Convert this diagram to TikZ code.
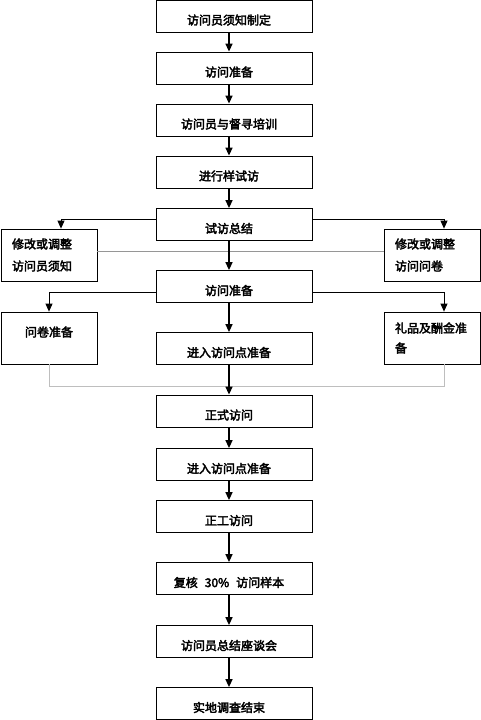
\documentclass[tikz,border=0pt]{standalone}
\usepackage{fontspec}
\setmainfont{Noto Sans CJK SC}[AutoFakeBold=3]
\usetikzlibrary{arrows.meta}
\definecolor{glinec}{RGB}{150,150,150}
\definecolor{glinecb}{RGB}{190,190,190}
\newcommand{\bt}[1]{\raisebox{-4pt}[\height][\depth]{\kern-5pt\makebox[0pt]{#1}\kern5pt}}
\begin{document}
\begin{tikzpicture}[x=1pt,y=-1pt,
  mainbox/.style={draw, line width=0.8pt, minimum width=156pt, minimum height=32pt, inner sep=0pt, font=\fontsize{12}{14}\selectfont\bfseries},
  sidebox/.style={draw, line width=0.8pt, minimum width=96pt, minimum height=52pt, inner xsep=11pt, inner ysep=0pt, text width=74pt, align=left, font=\fontsize{12}{22}\selectfont\bfseries},
  arr/.style={line width=1.5pt, -{Triangle[width=7pt,length=8pt]}},
  sarr/.style={line width=0.8pt, -{Triangle[width=7pt,length=8pt]}},
  gline/.style={draw=glinec, line width=1pt},
  glineb/.style={draw=glinecb, line width=1pt}]
\useasboundingbox (0,0) rectangle (481,720);
\coordinate (ax) at (229,0);
\node[mainbox] (b1) at (234,16) {\bt{访问员须知制定}};
\node[mainbox] (b2) at (234,68) {\bt{访问准备}};
\node[mainbox] (b3) at (234,120) {\bt{访问员与督寻培训}};
\node[mainbox] (b4) at (234,172) {\bt{进行样试访}};
\node[mainbox] (b5) at (234,224.5) {\bt{试访总结}};
\node[sidebox] (L1) at (49,255) {修改或调整\\访问员须知};
\node[sidebox] (R1) at (432,255) {修改或调整\\访问问卷};
\node[mainbox] (b6) at (234,286.5) {\bt{访问准备}};
\node[sidebox, align=center] (L2) at (49,338) {\raisebox{6pt}[\height][\depth]{问卷准备}};
\node[sidebox] (R2) at (432,338) {礼品及酬金准\\[-2pt]备};
\node[mainbox] (b7) at (234,348.5) {\bt{进入访问点准备}};
\node[mainbox] (b8) at (234,411) {\bt{正式访问}};
\node[mainbox] (b9) at (234,464.5) {\bt{进入访问点准备}};
\node[mainbox] (b10) at (234,516.5) {\bt{正工访问}};
\node[mainbox] (b11) at (234,578.5) {\bt{复核\hspace{7pt}30\%\hspace{7pt}访问样本}};
\node[mainbox] (b12) at (234,641.5) {\bt{访问员总结座谈会}};
\node[mainbox] (b13) at (234,703.5) {\bt{实地调查结束}};
% gray lines
\draw[gline] ([yshift=4pt]L1.east) -- ([yshift=4pt]R1.west);
\draw[glineb] (L2.south) -- ++(0,22) -| ([xshift=12pt]R2.south);
% side connectors
\draw[sarr] ([yshift=5.5pt]b5.west) -| ([xshift=12pt]L1.north);
\draw[sarr] ([yshift=5.5pt]b5.east) -| ([xshift=12pt]R1.north);
\draw[sarr] ([yshift=-5.5pt]b6.west) -| (L2.north);
\draw[sarr] ([yshift=-5.5pt]b6.east) -| ([xshift=12pt]R2.north);
% main arrows
\foreach \a/\b in {b1/b2,b2/b3,b3/b4,b4/b5,b5/b6,b6/b7,b7/b8,b8/b9,b9/b10,b10/b11,b11/b12,b12/b13}
  \draw[arr] (\a.south -| ax) -- (\b.north -| ax);
\end{tikzpicture}
\end{document}
